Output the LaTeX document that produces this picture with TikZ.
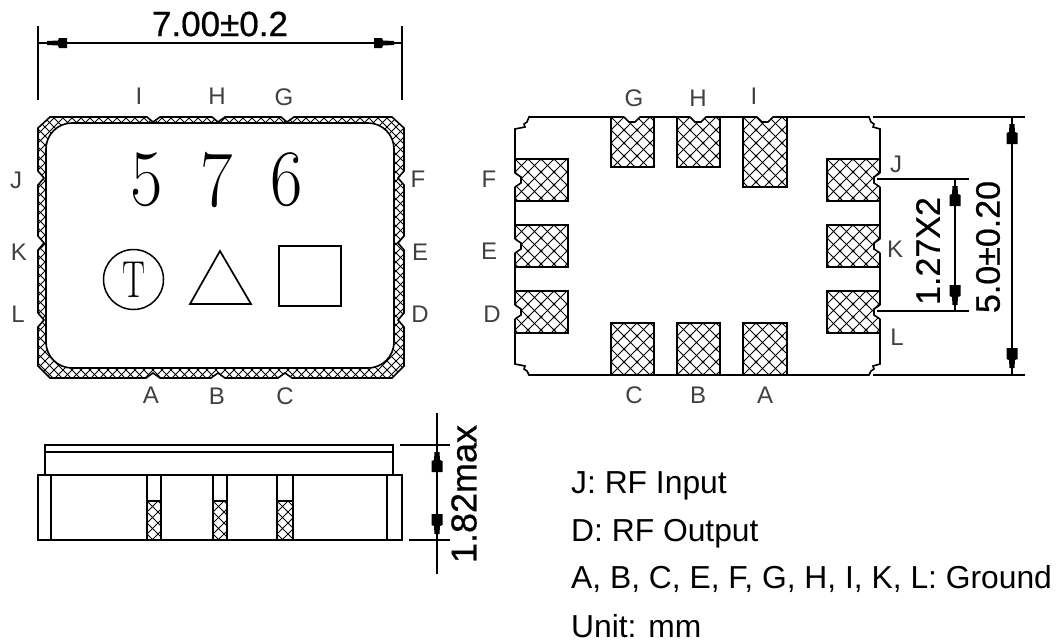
\documentclass[tikz,border=0pt]{standalone}
\usepackage{fontspec}
\setmainfont{Liberation Sans}
\newfontfamily\digitfont{Latin Modern Roman}
\newfontfamily\dimfont{Liberation Sans}[FakeBold=0.6]
\newcommand{\hatchrect}[5][13]{%
  \begin{scope}
    \clip (#2,#3) rectangle (#4,#5);
    \foreach \k in {-40,...,40}{
      \draw[hatchline] ({#2+\k*#1},#3) -- ++(200,200);
      \draw[hatchline] ({#2+\k*#1},#3) -- ++(-200,200);
    }
    \foreach \a in {0,...,7}{\foreach \b in {0,...,6}{
      \fill ({#2+\a*#1},{#3+\b*#1}) circle (1.5pt);
    }}
  \end{scope}
  \draw[partline] (#2,#3) rectangle (#4,#5);}
\newcommand{\tipup}[2]{\fill (#1-2.5,#2) -- (#1+2.5,#2) -- (#1+3,#2+8) -- (#1+5.5,#2+9) -- (#1+5.5,#2+20) -- (#1-5.5,#2+20) -- (#1-5.5,#2+9) -- (#1-3,#2+8) -- cycle;}
\newcommand{\tipdown}[2]{\fill (#1-2.5,#2) -- (#1+2.5,#2) -- (#1+3,#2-8) -- (#1+5.5,#2-9) -- (#1+5.5,#2-20) -- (#1-5.5,#2-20) -- (#1-5.5,#2-9) -- (#1-3,#2-8) -- cycle;}
\newcommand{\tipleft}[2]{\fill (#1,#2-2) -- (#1,#2+2) -- (#1+11,#2+2.5) -- (#1+12,#2+5) -- (#1+20,#2+5) -- (#1+20,#2-5) -- (#1+12,#2-5) -- (#1+11,#2-2.5) -- cycle;}
\newcommand{\tipright}[2]{\fill (#1,#2-2) -- (#1,#2+2) -- (#1-11,#2+2.5) -- (#1-12,#2+5) -- (#1-20,#2+5) -- (#1-20,#2-5) -- (#1-12,#2-5) -- (#1-11,#2-2.5) -- cycle;}
\tikzset{
  partline/.style={line width=1.6pt,black},
  thinline/.style={line width=1.2pt,black},
  hatchline/.style={line width=0.9pt,black},
  pinlabel/.style={font=\fontsize{24}{28}\selectfont,text=black!75,inner sep=0pt},
  dimtext/.style={font=\dimfont\fontsize{34}{40}\selectfont,inner sep=0pt},
  note/.style={font=\fontsize{31.8}{36}\selectfont,inner sep=0pt,anchor=base west},
  bigdigit/.style={font=\digitfont\fontsize{80}{90}\selectfont,inner sep=0pt},
}
\begin{document}
\begin{tikzpicture}[x=1pt,y=-1pt]
\useasboundingbox[fill=white] (0,0) rectangle (1058,643);

% ---------- top view ----------
\begin{scope}
  \clip (50,117) -- (147,117) -- (153,122) -- (160,117) -- (212,117) -- (218,122) -- (225,117) -- (281,117) -- (287,122) -- (294,117) -- (392,117) -- (404,128)
    -- (404,171) -- (398,178) -- (404,185) -- (404,236) -- (398,243) -- (404,250) -- (404,313) -- (398,320) -- (404,327) -- (404,366) -- (392,378)
    -- (292,378) -- (285,373) -- (278,378) -- (225,378) -- (218,373) -- (211,378) -- (160,378) -- (153,373) -- (146,378) -- (50,378) -- (38,366)
    -- (38,327) -- (44,320) -- (38,313) -- (38,250) -- (44,243) -- (38,236) -- (38,185) -- (44,178) -- (38,171) -- (38,128) -- cycle;
  \foreach \k in {-80,...,80}{
    \draw[line width=0.9pt] (\k*9,100) -- ++(300,300);
    \draw[line width=0.9pt] (\k*9,100) -- ++(-300,300);
  }
\end{scope}
\draw[partline] (50,117) -- (147,117) -- (153,122) -- (160,117) -- (212,117) -- (218,122) -- (225,117) -- (281,117) -- (287,122) -- (294,117) -- (392,117) -- (404,128)
    -- (404,171) -- (398,178) -- (404,185) -- (404,236) -- (398,243) -- (404,250) -- (404,313) -- (398,320) -- (404,327) -- (404,366) -- (392,378)
    -- (292,378) -- (285,373) -- (278,378) -- (225,378) -- (218,373) -- (211,378) -- (160,378) -- (153,373) -- (146,378) -- (50,378) -- (38,366)
    -- (38,327) -- (44,320) -- (38,313) -- (38,250) -- (44,243) -- (38,236) -- (38,185) -- (44,178) -- (38,171) -- (38,128) -- cycle;
\draw[partline,fill=white,rounded corners=26pt] (46,123) rectangle (394,368);

\node[bigdigit] (d5) at (147,180) {\scalebox{0.88}[1]{5}};
\node[bigdigit] (d7) at (217,180) {\scalebox{0.88}[1]{7}};
\node[bigdigit] (d6) at (287,180) {\scalebox{0.88}[1]{6}};
\node[draw,circle,line width=1.5pt,minimum size=60pt,inner sep=0pt,font=\digitfont\fontsize{52}{54}\selectfont] (logo) at (133.5,279.5) {\scalebox{0.66}[1]{T}};
\draw[line width=1.7pt] (220,251) -- (251,304) -- (190,304) -- cycle;
\draw[line width=2pt] (279,246) rectangle (341,306);

% top dimension
\draw[thinline] (38,26) -- (38,100);
\draw[thinline] (402,26) -- (402,100);
\draw[thinline] (38,43) -- (402,43);
\tipleft{47}{43}
\tipright{394}{43}
\node[font=\dimfont\fontsize{35}{38}\selectfont,inner sep=0pt] (w) at (220,24) {7.00±0.2};

% top-view labels
\node[pinlabel] (tI) at (139,96) {I};
\node[pinlabel] (tH) at (217,96) {H};
\node[pinlabel] (tG) at (284,97) {G};
\node[pinlabel] (tA) at (151,395) {A};
\node[pinlabel] (tB) at (217,396) {B};
\node[pinlabel] (tC) at (285,396) {C};
\node[pinlabel] (tJ) at (16,180) {J};
\node[pinlabel] (tK) at (19,252) {K};
\node[pinlabel] (tL) at (18,314) {L};
\node[pinlabel] (tF) at (418,179) {F};
\node[pinlabel] (tE) at (420,252) {E};
\node[pinlabel] (tD) at (420,314) {D};

% ---------- bottom view ----------
\draw[partline] (529,117) -- (869,117) -- (871,122) -- (874,124) -- (873,127) -- (880,129) -- (880,364) -- (873,366) -- (874,369) -- (871,371) -- (869,375)
  -- (529,375) -- (527,371) -- (524,369) -- (525,366) -- (515,364) -- (515,129) -- (525,127) -- (524,124) -- (527,122) -- cycle;
\hatchrect{611}{117}{654}{167}
\hatchrect{677}{117}{720}{167}
\hatchrect{743}{117}{787}{187}
\hatchrect{611}{323}{654}{375}
\hatchrect{677}{323}{720}{375}
\hatchrect{743}{323}{787}{375}
\hatchrect{515}{159}{568}{201}
\hatchrect{515}{225}{568}{267}
\hatchrect{515}{291}{568}{333}
\hatchrect{827}{159}{880}{201}
\hatchrect{827}{225}{880}{267}
\hatchrect{827}{291}{880}{333}
% notches
\foreach \c in {632,698,765}{
  \fill[white] (\c-8,116) -- (\c+8,116) -- (\c+3,122) -- (\c-3,122) -- cycle;
  \draw[partline] (\c-8,117) -- (\c-3,122) -- (\c+3,122) -- (\c+8,117);
}
\foreach \c in {180,246,312}{
  \fill[white] (514,\c-7) -- (514,\c+7) -- (521,\c+3) -- (521,\c-3) -- cycle;
  \draw[partline] (515,\c-7) -- (521,\c-3) -- (521,\c+3) -- (515,\c+7);
  \fill[white] (881,\c-7) -- (881,\c+7) -- (874,\c+3) -- (874,\c-3) -- cycle;
  \draw[partline] (880,\c-7) -- (874,\c-3) -- (874,\c+3) -- (880,\c+7);
}

% bottom-view labels
\node[pinlabel] (bG) at (634,98) {G};
\node[pinlabel] (bH) at (698,98) {H};
\node[pinlabel] (bI) at (754,96) {I};
\node[pinlabel] (bC) at (634,395) {C};
\node[pinlabel] (bB) at (698,395) {B};
\node[pinlabel] (bA) at (765,395) {A};
\node[pinlabel] (bF) at (489,179) {F};
\node[pinlabel] (bE) at (489,251) {E};
\node[pinlabel] (bD) at (492,314) {D};
\node[pinlabel] (bJ) at (896,164) {J};
\node[pinlabel] (bK) at (895,249) {K};
\node[pinlabel] (bL) at (897,337) {L};

% right dimensions
\draw[thinline] (873,117) -- (1025,117);
\draw[thinline] (873,375) -- (1025,375);
\draw[thinline] (1012,117) -- (1012,375);
\tipup{1012}{124}
\tipdown{1012}{368}
\draw[thinline] (877,179) -- (969,179);
\draw[thinline] (877,311) -- (969,311);
\draw[thinline] (955,179) -- (955,311);
\tipup{955}{186}
\tipdown{955}{305}
\node[dimtext,rotate=90] (pitch) at (928,251) {1.27X2};
\node[dimtext,rotate=90] (height) at (988,247) {5.0±0.20};

% ---------- side view ----------
\draw[partline] (45,475) -- (45,445) -- (393,445) -- (393,475);
\draw[partline] (45,452) -- (393,452);
\draw[partline] (38,475) rectangle (402,540);
\draw[partline] (51,475) -- (51,540);
\draw[partline] (387,475) -- (387,540);
\foreach \a/\b in {147/161,213/227,277/293}{
  \draw[partline] (\a,475) -- (\a,501);
  \draw[partline] (\b,475) -- (\b,501);
  \hatchrect[11]{\a}{501}{\b}{540}
}
\draw[thinline] (437,413) -- (437,574);
\draw[thinline] (400,445) -- (450,445);
\draw[thinline] (409,540) -- (450,540);
\tipup{437}{452}
\tipdown{437}{534}
\node[font=\dimfont\fontsize{36}{40}\selectfont,inner sep=0pt,rotate=90] (maxh) at (464,494) {1.82max};

% ---------- notes ----------
\node[note] (n1) at (571,493) {J: RF Input};
\node[note] (n2) at (571,541) {D: RF Output};
\node[note] (n3) at (571,588) {A, B, C, E, F, G, H, I, K, L: Ground};
\node[note] (n4) at (571,637) {Unit: mm};
\end{tikzpicture}
\end{document}
